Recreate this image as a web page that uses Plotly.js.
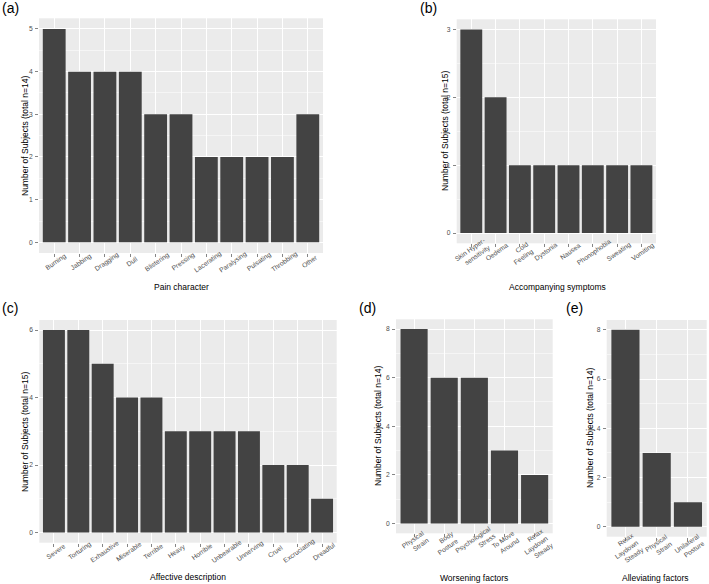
<!DOCTYPE html>
<html>
<head>
<meta charset="utf-8">
<script src="https://cdn.plot.ly/plotly-3.0.1.min.js"></script>
<style>html,body{margin:0;padding:0;background:#fff;}#chart{width:709px;height:584px;}</style>
</head>
<body>
<div id="chart"></div>
<script>
// ---- data ----
const painCategories = ['Burning','Jabbing','Dragging','Dull','Blistering','Pressing','Lacerating','Paralysing','Pulsating','Throbbing','Other'];
const painValues = [5,4,4,4,3,3,2,2,2,2,3];

const symptomCategories = ['Skin Hyper-<br>sensitivity','Oedema','Cold<br>Feeling','Dystonia','Nausea','Phonophobia','Sweating','Vomiting'];
const symptomValues = [3,2,1,1,1,1,1,1];

const affectiveCategories = ['Severe','Torturing','Exhaustive','Miserable','Terrible','Heavy','Horrible','Unbearable','Unnerving','Cruel','Excruciating','Dreadful'];
const affectiveValues = [6,6,5,4,4,3,3,3,3,2,2,1];

const worseningCategories = ['Physical<br>Strain','Body<br>Posture','Psychological<br>Stress','To Move<br>Around','Relax<br>Laydown<br>Steady'];
const worseningValues = [8,6,6,3,2];

const alleviatingCategories = ['Relax<br>Laydown<br>Steady','Physical<br>Strain','Unilateral<br>Posture'];
const alleviatingValues = [8,3,1];

const panelLabels = ['(a)','(b)','(c)','(d)','(e)'];
const xTitles = ['Pain character','Accompanying symptoms','Affective description','Worsening factors','Alleviating factors'];
const yTitles = ['Number of Subjects (total n=14)','Number of Subjects (total n=15)','Number of Subjects (total n=15)','Number of Subjects (total n=14)','Number of Subjects (total n=14)'];

// ---- layout helpers ----
const W = 709, H = 584;
const px = v => v / W;
const py = v => 1 - v / H;
const FONT = 'Liberation Sans, Arial, sans-serif';
const BAR = '#434343';
const TICKFONT = {family: FONT, size: 6.7, color: '#4d4d4d'};

// panel boxes in pixels: [left, right, top, bottom], y max, y dtick
const panels = [
  {cats: painCategories, vals: painValues, box:[39,323,18.3,253], ymax:5, dtick:1},
  {cats: symptomCategories, vals: symptomValues, box:[456.7,656,19.3,243.3], ymax:3, dtick:1},
  {cats: affectiveCategories, vals: affectiveValues, box:[39.3,336.7,320,542.7], ymax:6, dtick:2},
  {cats: worseningCategories, vals: worseningValues, box:[396,552.7,319.3,533.3], ymax:8, dtick:2},
  {cats: alleviatingCategories, vals: alleviatingValues, box:[606.7,706.7,320,536.7], ymax:8, dtick:2}
];

const data = [];
const layout = {
  width: W, height: H,
  margin: {l:0, r:0, t:0, b:0},
  paper_bgcolor: '#ffffff',
  plot_bgcolor: '#ebebeb',
  showlegend: false,
  font: {family: FONT, color: '#000'},
  annotations: []
};

panels.forEach((p, i) => {
  const n = i === 0 ? '' : String(i + 1);
  const [l, r, t, b] = p.box;
  data.push({
    type: 'bar',
    x: p.cats,
    y: p.vals,
    xaxis: 'x' + n,
    yaxis: 'y' + n,
    width: 0.9,
    marker: {color: BAR, line: {width: 0}},
    hoverinfo: 'x+y'
  });
  const pad = p.ymax * 0.05;
  layout['xaxis' + n] = {
    domain: [px(l), px(r)],
    anchor: 'y' + n,
    type: 'category',
    range: [-0.6, p.cats.length - 0.4],
    showgrid: true, gridcolor: '#ffffff', gridwidth: 1,
    zeroline: false, showline: false,
    ticks: 'outside', ticklen: 3, tickwidth: 0.6, tickcolor: '#333333',
    showticklabels: false,
    automargin: false, fixedrange: true
  };
  layout['yaxis' + n] = {
    domain: [py(b), py(t)],
    anchor: 'x' + n,
    range: [-pad, p.ymax + pad],
    dtick: p.dtick, tick0: 0,
    showgrid: true, gridcolor: '#ffffff', gridwidth: 1,
    minor: {dtick: p.dtick / 2, tick0: 0, showgrid: true, gridcolor: '#ffffff', gridwidth: 0.5, ticklen: 0},
    zeroline: false, showline: false,
    ticks: 'outside', ticklen: 3, tickwidth: 0.6, tickcolor: '#333333',
    ticklabelstandoff: 1,
    tickfont: TICKFONT,
    automargin: false, fixedrange: true
  };
  // rotated category labels, centred under each tick (ggplot style)
  p.cats.forEach((c, k) => {
    const lines = c.split('<br>').length;
    const drop = lines === 1 ? 8.5 : (lines === 2 ? 10 : 12.5);
    layout.annotations.push({
      text: c, xref: 'x' + n, yref: 'y' + n + ' domain',
      x: k, y: 0, xanchor: 'center', yanchor: 'middle',
      xshift: 1.5, yshift: -drop,
      textangle: -35, align: 'right', showarrow: false,
      font: TICKFONT
    });
  });
});

// axis titles and panel labels
const xTitlePos = [[181,287],[557,287],[188,577],[474,578],[655,578]];
const yTitlePos = [[25,136],[445,131],[25,432],[378,426],[590,428]];
const labelPos = [[0,8],[418,8],[0,308],[357,308],[564,308]];

xTitles.forEach((txt, i) => {
  layout.annotations.push({
    text: txt, xref: 'paper', yref: 'paper',
    x: px(xTitlePos[i][0]), y: py(xTitlePos[i][1]),
    xanchor: 'center', yanchor: 'middle', showarrow: false,
    font: {family: FONT, size: 8.5, color: '#000'}
  });
});
yTitles.forEach((txt, i) => {
  layout.annotations.push({
    text: txt, xref: 'paper', yref: 'paper',
    x: px(yTitlePos[i][0]), y: py(yTitlePos[i][1]),
    xanchor: 'center', yanchor: 'middle', showarrow: false, textangle: -90,
    font: {family: FONT, size: 8.5, color: '#000'}
  });
});
panelLabels.forEach((txt, i) => {
  layout.annotations.push({
    text: txt, xref: 'paper', yref: 'paper',
    x: px(labelPos[i][0]), y: py(labelPos[i][1]),
    xanchor: 'left', yanchor: 'middle', showarrow: false,
    font: {family: FONT, size: 14, color: '#000'}
  });
});

Plotly.newPlot('chart', data, layout, {displayModeBar: false, staticPlot: true});
</script>
</body>
</html>
